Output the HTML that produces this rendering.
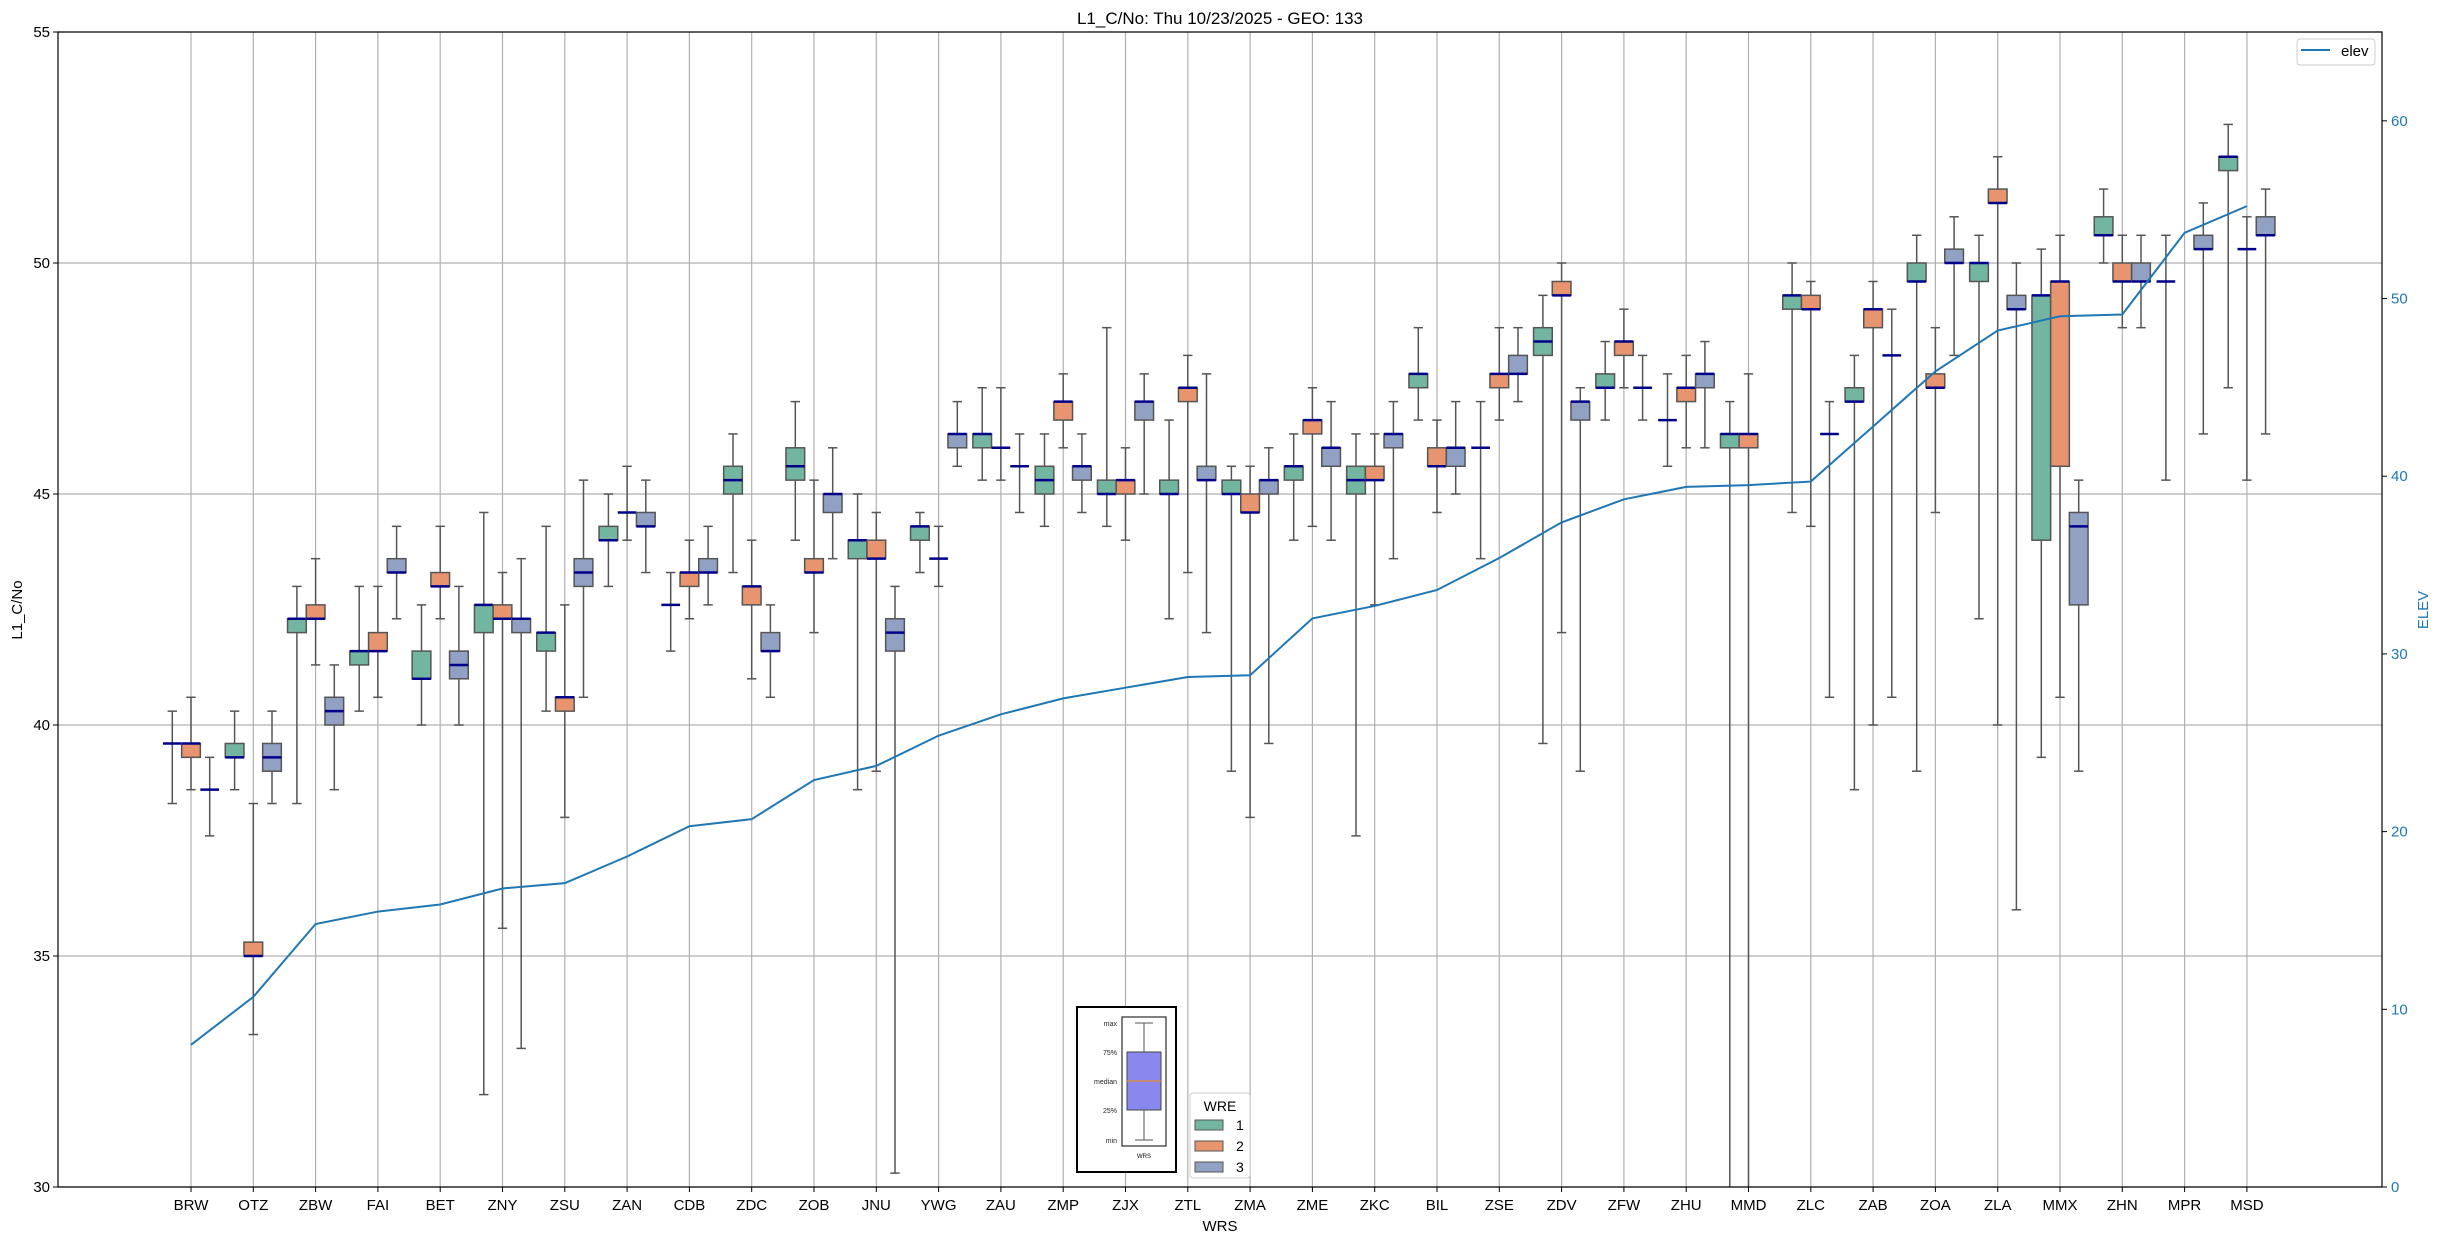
<!DOCTYPE html>
<html><head><meta charset="utf-8">
<style>
html,body{margin:0;padding:0;background:#fff;}
svg{display:block;font-family:"Liberation Sans","DejaVu Sans",sans-serif;}
</style></head>
<body>
<svg id="chart" xmlns="http://www.w3.org/2000/svg" width="2438" height="1240" viewBox="0 0 2438 1240">
<defs><clipPath id="plotclip"><rect x="58" y="32" width="2324" height="1155"/></clipPath></defs>
<rect x="0" y="0" width="2438" height="1240" fill="#fff"/>
<text x="1220" y="24" text-anchor="middle" font-size="17">L1_C/No: Thu 10/23/2025 - GEO: 133</text>
<g id="grid"></g>
<g id="boxes" clip-path="url(#plotclip)"></g>
<g id="elevline" clip-path="url(#plotclip)"></g>
<rect x="58" y="32" width="2324" height="1155" fill="none" stroke="#000" stroke-width="1.2"/>
<g id="axes"></g>
<text transform="translate(22,610) rotate(-90)" text-anchor="middle" font-size="15">L1_C/No</text>
<text transform="translate(2428,610) rotate(-90)" text-anchor="middle" font-size="15" fill="#1f77b4">ELEV</text>
<text x="1220" y="1231" text-anchor="middle" font-size="15">WRS</text>
<!-- elev legend -->
<g>
<rect x="2297" y="39" width="78" height="26" rx="3" fill="#fff" stroke="#ccc"/>
<line x1="2301" y1="50" x2="2330" y2="50" stroke="#1f77b4" stroke-width="2"/>
<text x="2341" y="56" font-size="15">elev</text>
</g>
<!-- inset explanatory boxplot -->
<g>
<rect x="1077" y="1007" width="99" height="165" fill="#fff" stroke="#000" stroke-width="2"/>
<rect x="1122" y="1017" width="44" height="129" fill="#fff" stroke="#000" stroke-width="1"/>
<line x1="1144" y1="1023" x2="1144" y2="1140" stroke="#555" stroke-width="1"/>
<line x1="1135" y1="1023" x2="1153" y2="1023" stroke="#555"/>
<line x1="1135" y1="1140" x2="1153" y2="1140" stroke="#555"/>
<rect x="1127" y="1052" width="34" height="58" fill="#8888ee" stroke="#444"/>
<line x1="1127" y1="1081" x2="1161" y2="1081" stroke="#ff8c00" stroke-width="1"/>
<g font-size="7" text-anchor="end" fill="#222">
<text x="1117" y="1026">max</text><text x="1117" y="1055">75%</text><text x="1117" y="1084">median</text><text x="1117" y="1113">25%</text><text x="1117" y="1143">min</text>
</g>
<text x="1144" y="1158" font-size="6" text-anchor="middle">WRS</text>
</g>
<!-- WRE legend -->
<g>
<rect x="1190" y="1093" width="60" height="85" rx="3" fill="#fff" stroke="#ccc"/>
<text x="1220" y="1111" font-size="14" text-anchor="middle">WRE</text>
<rect x="1195" y="1120" width="28" height="10" fill="#72b6a1" stroke="#555"/><text x="1236" y="1130" font-size="14">1</text>
<rect x="1195" y="1141" width="28" height="10" fill="#e8956f" stroke="#555"/><text x="1236" y="1151" font-size="14">2</text>
<rect x="1195" y="1162" width="28" height="10" fill="#91a1c3" stroke="#555"/><text x="1236" y="1172" font-size="14">3</text>
</g>
</svg>
<script>
const stations = ["BRW","OTZ","ZBW","FAI","BET","ZNY","ZSU","ZAN","CDB","ZDC","ZOB","JNU","YWG","ZAU","ZMP","ZJX","ZTL","ZMA","ZME","ZKC","BIL","ZSE","ZDV","ZFW","ZHU","MMD","ZLC","ZAB","ZOA","ZLA","MMX","ZHN","MPR","MSD"];
// each entry: [min, q1, median, q3, max]
const wre1Stats = [[38.3,39.6,39.6,39.6,40.3],[38.6,39.3,39.3,39.6,40.3],[38.3,42.0,42.3,42.3,43.0],[40.3,41.3,41.6,41.6,43.0],[40.0,41.0,41.0,41.6,42.6],[32.0,42.0,42.6,42.6,44.6],[40.3,41.6,42.0,42.0,44.3],[43.0,44.0,44.0,44.3,45.0],[41.6,42.6,42.6,42.6,43.3],[43.3,45.0,45.3,45.6,46.3],[44.0,45.3,45.6,46.0,47.0],[38.6,43.6,44.0,44.0,45.0],[43.3,44.0,44.3,44.3,44.6],[45.3,46.0,46.3,46.3,47.3],[44.3,45.0,45.3,45.6,46.3],[44.3,45.0,45.0,45.3,48.6],[42.3,45.0,45.0,45.3,46.6],[39.0,45.0,45.0,45.3,45.6],[44.0,45.3,45.6,45.6,46.3],[37.6,45.0,45.3,45.6,46.3],[46.6,47.3,47.6,47.6,48.6],[43.6,46.0,46.0,46.0,47.0],[39.6,48.0,48.3,48.6,49.3],[46.6,47.3,47.3,47.6,48.3],[45.6,46.6,46.6,46.6,47.6],[29.0,46.0,46.3,46.3,47.0],[44.6,49.0,49.3,49.3,50.0],[38.6,47.0,47.0,47.3,48.0],[39.0,49.6,49.6,50.0,50.6],[42.3,49.6,50.0,50.0,50.6],[39.3,44.0,49.3,49.3,50.3],[50.0,50.6,50.6,51.0,51.6],[45.3,49.6,49.6,49.6,50.6],[47.3,52.0,52.3,52.3,53.0]];
const wre2Stats = [[38.6,39.3,39.6,39.6,40.6],[33.3,35.0,35.0,35.3,38.3],[41.3,42.3,42.3,42.6,43.6],[40.6,41.6,41.6,42.0,43.0],[42.3,43.0,43.0,43.3,44.3],[35.6,42.3,42.3,42.6,43.3],[38.0,40.3,40.6,40.6,42.6],[44.0,44.6,44.6,44.6,45.6],[42.3,43.0,43.3,43.3,44.0],[41.0,42.6,43.0,43.0,44.0],[42.0,43.3,43.3,43.6,45.3],[39.0,43.6,43.6,44.0,44.6],[43.0,43.6,43.6,43.6,44.3],[45.3,46.0,46.0,46.0,47.3],[46.0,46.6,47.0,47.0,47.6],[44.0,45.0,45.3,45.3,46.0],[43.3,47.0,47.3,47.3,48.0],[38.0,44.6,44.6,45.0,45.6],[44.3,46.3,46.6,46.6,47.3],[42.6,45.3,45.3,45.6,46.3],[44.6,45.6,45.6,46.0,46.6],[46.6,47.3,47.6,47.6,48.6],[42.0,49.3,49.3,49.6,50.0],[47.3,48.0,48.3,48.3,49.0],[46.0,47.0,47.3,47.3,48.0],[29.0,46.0,46.3,46.3,47.6],[44.3,49.0,49.0,49.3,49.6],[40.0,48.6,49.0,49.0,49.6],[44.6,47.3,47.3,47.6,48.6],[40.0,51.3,51.3,51.6,52.3],[40.6,45.6,49.6,49.6,50.6],[48.6,49.6,49.6,50.0,50.6],null,[45.3,50.3,50.3,50.3,51.0]];
const wre3Stats = [[37.6,38.6,38.6,38.6,39.3],[38.3,39.0,39.3,39.6,40.3],[38.6,40.0,40.3,40.6,41.3],[42.3,43.3,43.3,43.6,44.3],[40.0,41.0,41.3,41.6,43.0],[33.0,42.0,42.3,42.3,43.6],[40.6,43.0,43.3,43.6,45.3],[43.3,44.3,44.3,44.6,45.3],[42.6,43.3,43.3,43.6,44.3],[40.6,41.6,41.6,42.0,42.6],[43.6,44.6,45.0,45.0,46.0],[30.3,41.6,42.0,42.3,43.0],[45.6,46.0,46.3,46.3,47.0],[44.6,45.6,45.6,45.6,46.3],[44.6,45.3,45.6,45.6,46.3],[45.0,46.6,47.0,47.0,47.6],[42.0,45.3,45.3,45.6,47.6],[39.6,45.0,45.3,45.3,46.0],[44.0,45.6,46.0,46.0,47.0],[43.6,46.0,46.3,46.3,47.0],[45.0,45.6,46.0,46.0,47.0],[47.0,47.6,47.6,48.0,48.6],[39.0,46.6,47.0,47.0,47.3],[46.6,47.3,47.3,47.3,48.0],[46.0,47.3,47.6,47.6,48.3],null,[40.6,46.3,46.3,46.3,47.0],[40.6,48.0,48.0,48.0,49.0],[48.0,50.0,50.0,50.3,51.0],[36.0,49.0,49.0,49.3,50.0],[39.0,42.6,44.3,44.6,45.3],[48.6,49.6,49.6,50.0,50.6],[46.3,50.3,50.3,50.6,51.3],[46.3,50.6,50.6,51.0,51.6]];
const elevValues = [8.0,10.7,14.8,15.5,15.9,16.8,17.1,18.6,20.3,20.7,22.9,23.7,25.4,26.6,27.5,28.1,28.7,28.8,32.0,32.7,33.6,35.4,37.4,38.7,39.4,39.5,39.7,42.8,45.9,48.2,49.0,49.1,53.7,55.2];
const leftTicks = [30,35,40,45,50,55];
const rightTicks = [0,10,20,30,40,50,60];

const NS = "http://www.w3.org/2000/svg";
const PL=58, PR=2382, PT=32, PB=1187;
const X0=191, DX=62.3;
function xPos(i){return X0+i*DX;}
function yL(v){return PT+(55-v)*(PB-PT)/25;}
function yR(e){return PB-e*(PB-PT)/65;}
function mk(tag, attrs, parent){const e=document.createElementNS(NS,tag);for(const k in attrs)e.setAttribute(k,attrs[k]);parent.appendChild(e);return e;}

const grid=document.getElementById('grid'), axes=document.getElementById('axes');
const boxes=document.getElementById('boxes'), elevG=document.getElementById('elevline');

leftTicks.forEach(t=>{
  const y=yL(t);
  const gl=mk('line',{x1:PL,x2:PR,y1:y,y2:y,stroke:'#b0b0b0','stroke-width':1.2},grid);
  
  
  mk('line',{x1:PL-5,x2:PL,y1:y,y2:y,stroke:'#000'},axes);
  const tx=mk('text',{x:PL-8,y:y+5,'text-anchor':'end','font-size':15},axes);
  tx.textContent=t;
  
  
});
rightTicks.forEach(t=>{
  const y=yR(t);
  mk('line',{x1:PR,x2:PR+5,y1:y,y2:y,stroke:'#000'},axes);
  const tx=mk('text',{x:PR+9,y:y+5,'font-size':15,fill:'#1f77b4'},axes);
  tx.textContent=t;
  
  
});
stations.forEach((s,i)=>{
  const x=xPos(i);
  const gl=mk('line',{x1:x,x2:x,y1:PT,y2:PB,stroke:'#b0b0b0','stroke-width':1.2},grid);
  
  
  mk('line',{x1:x,x2:x,y1:PB,y2:PB+5,stroke:'#000'},axes);
  const tx=mk('text',{x:x,y:PB+23,'text-anchor':'middle','font-size':15},axes);
  tx.textContent=s;
  
  
});

const groups=[[wre1Stats,'#72b6a1',-1],[wre2Stats,'#e8956f',0],[wre3Stats,'#91a1c3',1]];
const BW=18.7;
groups.forEach(([stats,color,off],gi)=>{
  stats.forEach((d,i)=>{
    if(!d) return;
    const cx=xPos(i)+off*BW;
    const g=mk('g',{},boxes);
    
    
    const [lo,q1,md,q3,hi]=d;
    mk('line',{x1:cx,x2:cx,y1:yL(hi),y2:yL(q3),stroke:'#555','stroke-width':1.5},g);
    mk('line',{x1:cx,x2:cx,y1:yL(q1),y2:yL(lo),stroke:'#555','stroke-width':1.5},g);
    mk('line',{x1:cx-BW/4,x2:cx+BW/4,y1:yL(hi),y2:yL(hi),stroke:'#555','stroke-width':1.5},g);
    mk('line',{x1:cx-BW/4,x2:cx+BW/4,y1:yL(lo),y2:yL(lo),stroke:'#555','stroke-width':1.5},g);
    if(q3>q1) mk('rect',{x:cx-BW/2,y:yL(q3),width:BW,height:yL(q1)-yL(q3),fill:color,stroke:'#555','stroke-width':1.5},g);
    mk('line',{x1:cx-BW/2,x2:cx+BW/2,y1:yL(md),y2:yL(md),stroke:'#00008b','stroke-width':2.5},g);
  });
});

const pts=elevValues.map((e,i)=>xPos(i)+','+yR(e)).join(' ');
const pl=mk('polyline',{points:pts,fill:'none',stroke:'#1f77b4','stroke-width':2},elevG);


</script>
</body></html>
